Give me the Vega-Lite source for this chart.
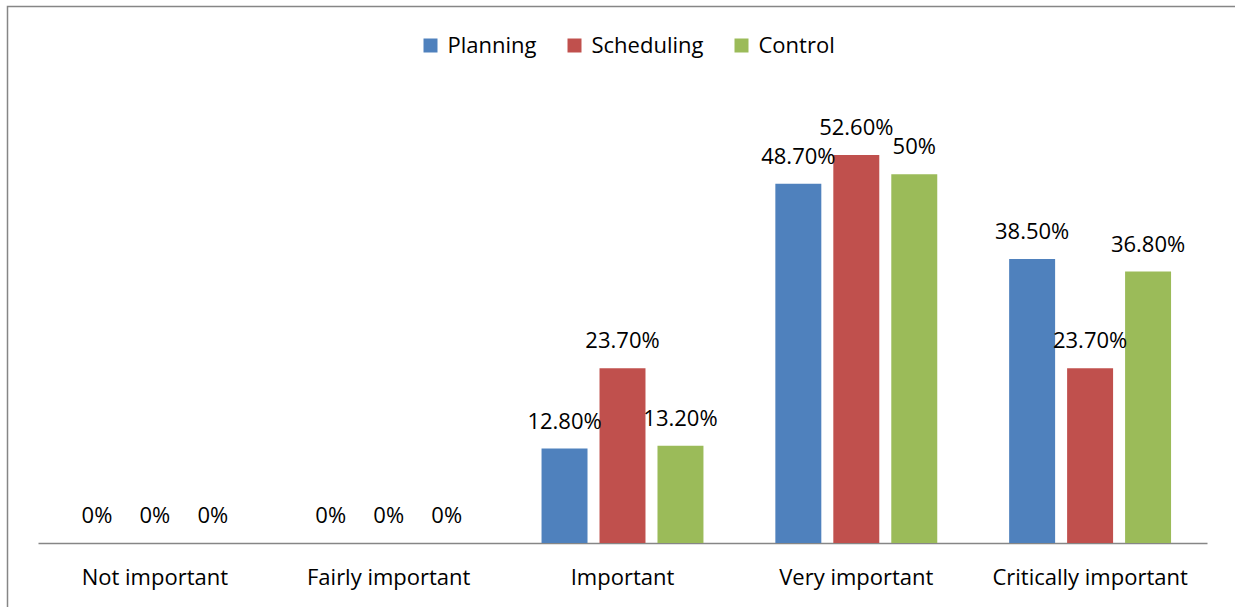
{
  "$schema": "https://vega.github.io/schema/vega-lite/v6.json",
  "autosize": "none",
  "width": 1240,
  "height": 620,
  "padding": {"left": 7.5, "top": 6.5, "right": 0, "bottom": 0},
  "background": "white",
  "config": {
    "view": {"stroke": "#868686", "strokeWidth": 1.5},
    "font": "Open Sans"
  },
  "data": {
    "values": [
      {"category": "Not important", "series": "Planning", "value": 0, "label": "0%"},
      {"category": "Not important", "series": "Scheduling", "value": 0, "label": "0%"},
      {"category": "Not important", "series": "Control", "value": 0, "label": "0%"},
      {"category": "Fairly important", "series": "Planning", "value": 0, "label": "0%"},
      {"category": "Fairly important", "series": "Scheduling", "value": 0, "label": "0%"},
      {"category": "Fairly important", "series": "Control", "value": 0, "label": "0%"},
      {"category": "Important", "series": "Planning", "value": 12.8, "label": "12.80%"},
      {"category": "Important", "series": "Scheduling", "value": 23.7, "label": "23.70%"},
      {"category": "Important", "series": "Control", "value": 13.2, "label": "13.20%"},
      {"category": "Very important", "series": "Planning", "value": 48.7, "label": "48.70%"},
      {"category": "Very important", "series": "Scheduling", "value": 52.6, "label": "52.60%"},
      {"category": "Very important", "series": "Control", "value": 50, "label": "50%"},
      {"category": "Critically important", "series": "Planning", "value": 38.5, "label": "38.50%"},
      {"category": "Critically important", "series": "Scheduling", "value": 23.7, "label": "23.70%"},
      {"category": "Critically important", "series": "Control", "value": 36.8, "label": "36.80%"}
    ]
  },
  "encoding": {
    "x": {
      "field": "category",
      "type": "nominal",
      "sort": ["Not important", "Fairly important", "Important", "Very important", "Critically important"],
      "scale": {"range": [30.5, 1199.5], "paddingInner": 0, "paddingOuter": 0},
      "axis": {
        "title": null,
        "orient": "bottom",
        "offset": -83.5,
        "labelAngle": 0,
        "labelFont": "Open Sans",
        "labelFontSize": 22,
        "labelColor": "#000000",
        "labelBaseline": "alphabetic",
        "labelPadding": 41,
        "labelLimit": 0,
        "labelOverlap": false,
        "ticks": false,
        "tickSize": 0,
        "domainColor": "#868686",
        "domainWidth": 1.5,
        "grid": false
      }
    },
    "xOffset": {
      "field": "series",
      "type": "nominal",
      "sort": ["Planning", "Scheduling", "Control"],
      "scale": {"paddingInner": 0.207, "paddingOuter": 0.62}
    },
    "y": {
      "field": "value",
      "type": "quantitative",
      "scale": {"domain": [0, 60], "range": [536.5, 93.9], "nice": false, "zero": true},
      "axis": null
    }
  },
  "layer": [
    {
      "mark": {"type": "bar"},
      "encoding": {
        "color": {
          "field": "series",
          "type": "nominal",
          "sort": ["Planning", "Scheduling", "Control"],
          "scale": {"domain": ["Planning", "Scheduling", "Control"], "range": ["#4F81BD", "#C0504D", "#9BBB59"]},
          "legend": {
            "title": null,
            "orient": "none",
            "direction": "horizontal",
            "legendX": 412,
            "legendY": 28,
            "symbolType": "square",
            "symbolSize": 196,
            "symbolStrokeWidth": 0,
            "labelFont": "Open Sans",
            "labelFontSize": 22,
            "labelColor": "#000000",
            "labelOffset": 6,
            "columnPadding": 27,
            "padding": 0
          }
        }
      }
    },
    {
      "mark": {"type": "text", "baseline": "alphabetic", "align": "center", "dy": -20, "font": "Open Sans", "fontSize": 22, "color": "#000000"},
      "encoding": {
        "text": {"field": "label"}
      }
    }
  ]
}
